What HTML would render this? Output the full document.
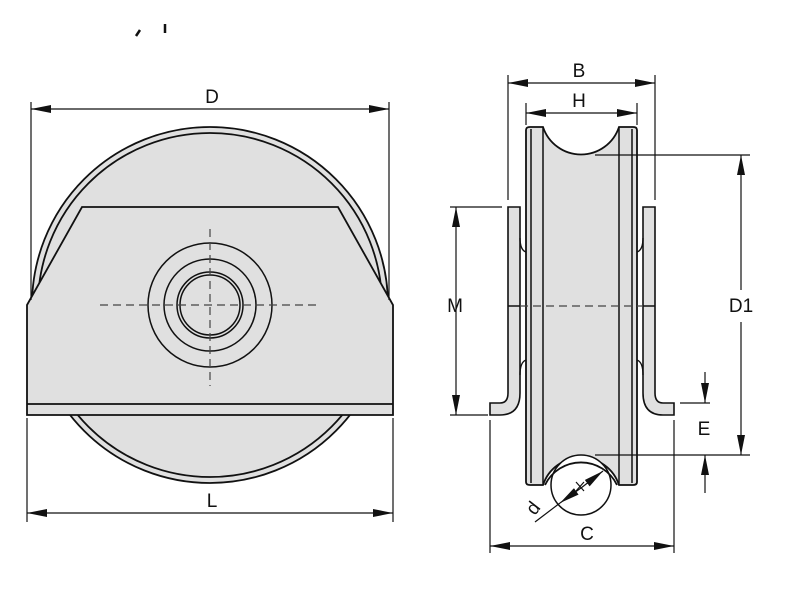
<!DOCTYPE html>
<html><head><meta charset="utf-8"><style>
html,body{margin:0;padding:0;background:#fff;width:800px;height:600px;overflow:hidden}
text{font-family:"Liberation Sans",Arial,sans-serif;font-size:19px;fill:#111}
</style></head><body>
<svg width="800" height="600" viewBox="0 0 800 600" xmlns="http://www.w3.org/2000/svg">
<defs>
<marker id="a" viewBox="0 0 20 8" refX="20" refY="4" markerWidth="20" markerHeight="8" markerUnits="userSpaceOnUse" orient="auto-start-reverse"><path d="M0,0L20,4L0,8z" fill="#111"/></marker>
</defs>
<g stroke="#111" fill="none">
<path d="M136,36 l4,-6 M165,24 v9" stroke-width="2.5"/>

<!-- LEFT VIEW -->
<circle cx="210" cy="305" r="178" fill="#e0e0e0" stroke-width="1.8"/>
<circle cx="210" cy="305" r="172" stroke-width="1.8"/>
<path d="M27,305 L82,207 L338,207 L393,305 L393,415 L27,415 Z" fill="#e0e0e0" stroke-width="1.8"/>
<path d="M27,404 H393" stroke-width="1.8"/>
<circle cx="210" cy="305" r="62" stroke-width="1.5"/>
<circle cx="210" cy="305" r="46" stroke-width="1.5"/>
<circle cx="210" cy="305" r="33" stroke-width="1.5"/>
<circle cx="210" cy="305" r="30" stroke-width="1.5"/>
<path d="M100,305 H318 M210,229 V386" stroke="#444" stroke-dasharray="8,5" stroke-width="1.2"/>
<path d="M31,102 V300 M389,102 V300" stroke-width="1.2"/>
<path d="M31,109 H389" stroke-width="1.2" marker-start="url(#a)" marker-end="url(#a)"/>
<path d="M27,418 V522 M393,418 V522" stroke-width="1.2"/>
<path d="M27,513 H393" stroke-width="1.2" marker-start="url(#a)" marker-end="url(#a)"/>

<!-- RIGHT VIEW -->
<path d="M508,207 H520 V393 Q520,415 500,415 H490 V403 H500 Q508,403 508,393 Z" fill="#e0e0e0" stroke-width="1.6"/>
<path d="M655,207 H643 V393 Q643,415 663,415 H674 V403 H663 Q655,403 655,393 Z" fill="#e0e0e0" stroke-width="1.6"/>
<path d="M520,238 Q520,250 526,252 M520,375 Q520,362 526,360" stroke-width="1.4"/>
<path d="M643,238 Q643,250 637,252 M643,375 Q643,362 637,360" stroke-width="1.4"/>
<path d="M526,130 Q526,127 530,127 H543 A40,40 0 0 0 619,127 H633 Q637,127 637,130 V482 Q637,485 633,485 H619 A40,40 0 0 0 543,485 H530 Q526,485 526,482 Z" fill="#e0e0e0" stroke-width="1.8"/>
<path d="M531,129 V483 M543,127 V485 M619,127 V485 M632,129 V483" stroke-width="1.5"/>
<path d="M508,306 H520 M643,306 H655" stroke-width="1.4"/>
<path d="M520,306 H643" stroke="#444" stroke-dasharray="8,5" stroke-width="1.2"/>
<circle cx="581" cy="485" r="30" fill="#fff" stroke-width="1.5"/>
<path d="M545,485 A40,40 0 0 1 617,485" stroke-width="1.8"/>
<path d="M535,522 L560,503" stroke-width="1.2"/>
<path d="M581,488 L560,503" stroke-width="1.2" marker-end="url(#a)"/>
<path d="M581,488 L603,471" stroke-width="1.2" marker-end="url(#a)"/>
<path d="M576,482 l8,9 M576,491 l8,-9" stroke-width="1.2"/>
<path d="M508,75 V200 M655,75 V200 M526,103 V125 M637,103 V125" stroke-width="1.2"/>
<path d="M508,83 H655" stroke-width="1.2" marker-start="url(#a)" marker-end="url(#a)"/>
<path d="M526,113 H637" stroke-width="1.2" marker-start="url(#a)" marker-end="url(#a)"/>
<path d="M595,155 H750 M595,455 H750" stroke-width="1.2"/>
<path d="M741,290 V155" stroke-width="1.2" marker-end="url(#a)"/>
<path d="M741,322 V455" stroke-width="1.2" marker-end="url(#a)"/>
<path d="M680,403 H710" stroke-width="1.2"/>
<path d="M705,372 V403" stroke-width="1.2" marker-end="url(#a)"/>
<path d="M705,493 V455" stroke-width="1.2" marker-end="url(#a)"/>
<path d="M450,207 H502 M450,415 H488" stroke-width="1.2"/>
<path d="M456,207 V415" stroke-width="1.2" marker-start="url(#a)" marker-end="url(#a)"/>
<path d="M490,420 V553 M674,420 V553" stroke-width="1.2"/>
<path d="M490,546 H674" stroke-width="1.2" marker-start="url(#a)" marker-end="url(#a)"/>
</g>
<text x="212" y="103" text-anchor="middle">D</text>
<text x="212" y="507" text-anchor="middle">L</text>
<text x="579" y="77" text-anchor="middle">B</text>
<text x="579" y="107" text-anchor="middle">H</text>
<text x="741" y="312" text-anchor="middle">D1</text>
<text x="704" y="435" text-anchor="middle">E</text>
<text x="455" y="312" text-anchor="middle">M</text>
<text x="587" y="540" text-anchor="middle">C</text>
<text x="0" y="0" text-anchor="middle" transform="translate(538,512) rotate(-52)">d</text>
</svg>
</body></html>
